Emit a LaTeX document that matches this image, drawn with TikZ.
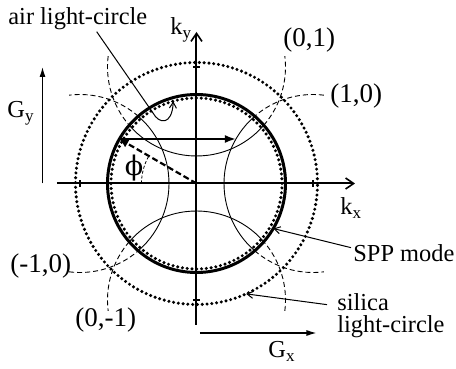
\documentclass[tikz,border=0pt]{standalone}
\usepackage{fontspec}
\setmainfont{Liberation Serif}
\newfontfamily\phifont{DejaVu Serif}
\usetikzlibrary{arrows.meta,calc}
\begin{document}
\begin{tikzpicture}[x=0.5pt,y=0.5pt,
 lbl/.style={inner sep=0pt, anchor=base west, font=\fontsize{12.2}{14}\selectfont},
 clbl/.style={inner sep=0pt, anchor=base west, font=\fontsize{13.5}{16}\selectfont},
 axisline/.style={line width=1pt, -{Straight Barb[length=4pt,width=5.5pt,line width=0.8pt]}},
 thickcirc/.style={line width=1.5pt},
 dotcirc/.style={line width=1.7pt, dash pattern=on 0pt off 2.4pt, line cap=round},
 thinarc/.style={line width=0.45pt},
 dasharc/.style={line width=0.45pt, dash pattern=on 2.5pt off 1.5pt},
 pointer/.style={line width=0.5pt, -{Straight Barb[length=3pt,width=3.5pt,line width=0.5pt]}},
 garrow/.style={line width=0.6pt, -{Latex[length=5pt,width=3pt]}},
 tickmark/.style={line width=0.8pt}]
\useasboundingbox (-196.5,-185.5) rectangle (259.5,183.5);

% circles
\draw[dotcirc] (0,0) circle[radius=121];
\draw[dotcirc] (0,0) circle[radius=85.5];
\draw[thickcirc] (0,0) circle[radius=89];

% shifted circles
\foreach \a in {0,90,180,270} {
  \begin{scope}[shift={(\a:116.5)}]
    \draw[thinarc] ({\a+130.9}:89) arc[start angle={\a+130.9}, end angle={\a+229.1}, radius=89];
    \draw[dasharc] ({\a+83}:89) arc[start angle={\a+83}, end angle={\a+130.9}, radius=89];
    \draw[dasharc] ({\a+229.1}:89) arc[start angle={\a+229.1}, end angle={\a+277}, radius=89];
  \end{scope}
}

% axes
\coordinate (O) at (0,0);
\coordinate (xl) at (-139.5,0);
\coordinate (xr) at (158.5,0);
\coordinate (yb) at (0,-141.5);
\coordinate (yt) at (0,151.5);
\draw[axisline] (xl) -- (xr);
\draw[axisline] (yb) -- (yt);
\draw[tickmark] (116.5,-3.5) -- (116.5,3.5);
\draw[tickmark] (-116.5,-3.5) -- (-116.5,3.5);
\draw[tickmark] (-3.5,116.5) -- (3.5,116.5);
\draw[tickmark] (-3.5,-116.5) -- (3.5,-116.5);

% angle
\draw[line width=0.4pt, dash pattern=on 1.5pt off 1pt] (180:55) arc[start angle=180, end angle=150, radius=55];
\coordinate (P) at (150:89);
\coordinate (PG) at ($(P)+(116.5,0)$);
\draw[line width=1.1pt, dash pattern=on 3pt off 1.5pt, -{Latex[length=4.5pt,width=4.5pt]}] (O) -- (P);
\draw[line width=1pt, -{Latex[length=5.5pt,width=4pt]}] (P) -- (PG);
\node[inner sep=0pt, font=\phifont\fontsize{13.5}{16}\selectfont] (phil) at (-62.5,15.5) {ϕ};

% G arrows
\coordinate (gy0) at (-154,0);
\coordinate (gy1) at (-154,116.5);
\coordinate (gx0) at (3.5,-149.5);
\coordinate (gx1) at (120,-149.5);
\draw[garrow] (gy0) -- (gy1);
\draw[garrow] (gx0) -- (gx1);

% labels
\node[lbl] (airl) at (-188.5,158.5) {air light-circle};
\node[lbl] (kyl) at (-26.5,148.5) {k\textsubscript{y}};
\node[clbl] (c01) at (86.5,136.5) {(0,1)};
\node[clbl] (c10) at (133.5,80.5) {(1,0)};
\node[lbl] (gyl) at (-189.5,65.5) {G\textsubscript{y}};
\node[lbl] (kxl) at (143.5,-31.5) {k\textsubscript{x}};
\node[lbl] (sppl) at (156.5,-78.5) {SPP mode};
\node[clbl] (cm10) at (-186.5,-89.5) {(-1,0)};
\node[lbl] (silica) at (140.5,-127.5) {silica};
\node[lbl] (silicab) at (140.5,-149.5) {light-circle};
\node[clbl] (c0m1) at (-121.5,-143.5) {(0,-1)};
\node[lbl] (gxl) at (71.5,-174.5) {G\textsubscript{x}};

% pointers
\coordinate (airstart) at (-99.8,151.8);
\coordinate (airtip) at (105.75:85.5);
\draw[pointer] (airstart) -- (-43.5,70.5) .. controls (-37.5,59.5) and (-24.5,57.5) .. (airtip);
\coordinate (spptip) at (-30.4:89);
\draw[pointer] ($(sppl.west)+(-2,6)$) -- (spptip);
\coordinate (siltip) at (-65.8:121);
\draw[pointer] ($(silica.west)+(-10,-2)$) -- (siltip);
\end{tikzpicture}
\end{document}
